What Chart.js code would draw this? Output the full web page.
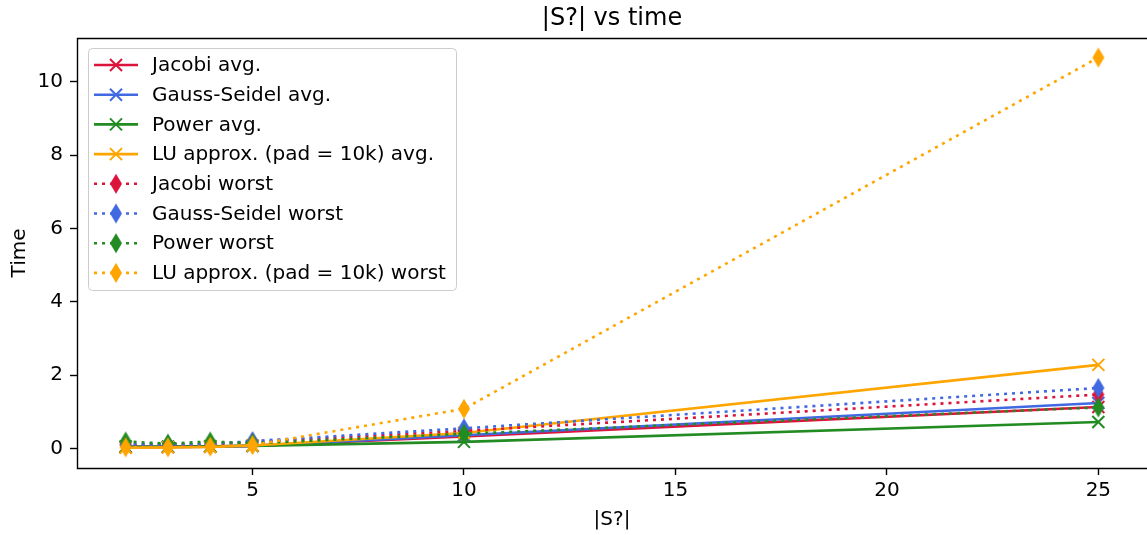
<!DOCTYPE html>
<html>
<head>
<meta charset="utf-8">
<script src="https://cdn.jsdelivr.net/npm/chart.js@4.4.1/dist/chart.umd.min.js"></script>
<style>
  html, body { margin: 0; padding: 0; background: #fff; }
  #wrap { width: 1147px; height: 535px; }
</style>
</head>
<body>
<div id="wrap"><canvas id="timeChart" width="1147" height="535"></canvas></div>
<script>
const sizes = [2, 3, 4, 5, 10, 25];

const jacobiAvg = [0.04, 0.04, 0.05, 0.07, 0.33, 1.13];
const gaussSeidelAvg = [0.04, 0.04, 0.05, 0.07, 0.36, 1.24];
const powerAvg = [0.05, 0.05, 0.06, 0.07, 0.18, 0.72];
const luAvg = [0.02, 0.03, 0.04, 0.08, 0.42, 2.28];
const jacobiWorst = [0.10, 0.10, 0.11, 0.17, 0.48, 1.47];
const gaussSeidelWorst = [0.11, 0.11, 0.12, 0.20, 0.55, 1.65];
const powerWorst = [0.19, 0.13, 0.19, 0.14, 0.40, 1.12];
const luWorst = [0.03, 0.03, 0.05, 0.09, 1.08, 10.66];

const xTicks = [5, 10, 15, 20, 25];
const yTicks = [0, 2, 4, 6, 8, 10];

const FONT = '"DejaVu Sans", sans-serif';
const RED = '#dc143c', BLUE = '#4169e1', GREEN = '#228b22', ORANGE = '#ffa500';
const DOTS = [3, 5];

function diamond(color) {
  const c = document.createElement('canvas');
  c.width = 14; c.height = 22;
  const g = c.getContext('2d');
  g.fillStyle = color;
  g.beginPath();
  g.moveTo(7, 1); g.lineTo(13, 11); g.lineTo(7, 21); g.lineTo(1, 11);
  g.closePath();
  g.fill();
  return c;
}

function toPoints(ys) { return sizes.map((x, i) => ({ x: x, y: ys[i] })); }

const series = [
  { label: 'Jacobi avg.', data: jacobiAvg, color: RED, worst: false },
  { label: 'Gauss-Seidel avg.', data: gaussSeidelAvg, color: BLUE, worst: false },
  { label: 'Power avg.', data: powerAvg, color: GREEN, worst: false },
  { label: 'LU approx. (pad = 10k) avg.', data: luAvg, color: ORANGE, worst: false },
  { label: 'Jacobi worst', data: jacobiWorst, color: RED, worst: true },
  { label: 'Gauss-Seidel worst', data: gaussSeidelWorst, color: BLUE, worst: true },
  { label: 'Power worst', data: powerWorst, color: GREEN, worst: true },
  { label: 'LU approx. (pad = 10k) worst', data: luWorst, color: ORANGE, worst: true }
];

const datasets = series.map((s, i) => ({
  label: s.label,
  data: toPoints(s.data),
  borderColor: s.color,
  backgroundColor: s.color,
  borderWidth: 2.6,
  borderDash: s.worst ? DOTS : [],
  pointStyle: s.worst ? diamond(s.color) : 'crossRot',
  pointRadius: 8.5,
  pointBorderWidth: 2,
  pointBorderColor: s.color,
  tension: 0,
  fill: false,
  clip: false,
  order: -i
}));

// frame, title, axis labels and the in-plot legend, matplotlib style
const decor = {
  id: 'decor',
  afterDraw(chart) {
    const ctx = chart.ctx;
    const a = chart.chartArea;
    ctx.save();
    // right spine falls just outside the picture, so only three sides
    ctx.strokeStyle = '#000';
    ctx.lineWidth = 1.4;
    ctx.beginPath();
    ctx.moveTo(a.right + 2, a.top + 0.5);
    ctx.lineTo(a.left + 0.5, a.top + 0.5);
    ctx.lineTo(a.left + 0.5, a.bottom + 0.5);
    ctx.lineTo(a.right + 2, a.bottom + 0.5);
    ctx.stroke();

    ctx.fillStyle = '#000';
    ctx.textAlign = 'center';
    ctx.textBaseline = 'middle';
    ctx.font = '24px ' + FONT;
    ctx.fillText('|S?| vs time', 612, 19);
    ctx.font = '20px ' + FONT;
    ctx.fillText('|S?|', 612, 520);
    ctx.save();
    ctx.translate(20, (a.top + a.bottom) / 2);
    ctx.rotate(-Math.PI / 2);
    ctx.fillText('Time', 0, 0);
    ctx.restore();

    // legend box
    const bx = 88.5, by = 48.5, bw = 368, bh = 242, r = 4;
    ctx.beginPath();
    ctx.moveTo(bx + r, by);
    ctx.arcTo(bx + bw, by, bx + bw, by + bh, r);
    ctx.arcTo(bx + bw, by + bh, bx, by + bh, r);
    ctx.arcTo(bx, by + bh, bx, by, r);
    ctx.arcTo(bx, by, bx + bw, by, r);
    ctx.closePath();
    ctx.fillStyle = 'rgba(255,255,255,0.8)';
    ctx.fill();
    ctx.strokeStyle = '#cccccc';
    ctx.lineWidth = 1;
    ctx.stroke();

    series.forEach((s, i) => {
      const y = 65 + i * 29.7;
      ctx.strokeStyle = s.color;
      ctx.lineWidth = 2.6;
      ctx.setLineDash(s.worst ? DOTS : []);
      ctx.beginPath();
      ctx.moveTo(94, y); ctx.lineTo(138, y);
      ctx.stroke();
      ctx.setLineDash([]);
      if (s.worst) {
        ctx.drawImage(diamond(s.color), 116 - 7, y - 11);
      } else {
        ctx.lineWidth = 2;
        ctx.beginPath();
        ctx.moveTo(110, y - 6); ctx.lineTo(122, y + 6);
        ctx.moveTo(110, y + 6); ctx.lineTo(122, y - 6);
        ctx.stroke();
      }
      ctx.fillStyle = '#000';
      ctx.textAlign = 'left';
      ctx.font = '20px ' + FONT;
      ctx.fillText(s.label, 152, y + 1);
    });
    ctx.restore();
  }
};

const ctx = document.getElementById('timeChart').getContext('2d');

const timeChart = new Chart(ctx, {
  type: 'line',
  data: { datasets: datasets },
  options: {
    responsive: false,
    animation: false,
    layout: { autoPadding: false, padding: { top: 38, right: 0, left: 0, bottom: 0 } },
    plugins: { legend: { display: false }, tooltip: { enabled: false }, title: { display: false } },
    scales: {
      x: {
        type: 'linear',
        min: 0.85,
        max: 26.15,
        afterBuildTicks: s => { s.ticks = xTicks.map(v => ({ value: v })); },
        afterFit: s => { s.height = 67; s.paddingLeft = 0; s.paddingRight = 0; },
        border: { display: false },
        grid: { drawOnChartArea: false, drawTicks: true, tickLength: 7, color: '#000', tickWidth: 1.4 },
        ticks: { color: '#000', font: { family: FONT, size: 20 }, padding: 4, maxRotation: 0 }
      },
      y: {
        type: 'linear',
        min: -0.533,
        max: 11.193,
        afterBuildTicks: s => { s.ticks = yTicks.map(v => ({ value: v })); },
        afterFit: s => { s.width = 77; s.paddingTop = 0; s.paddingBottom = 0; },
        border: { display: false },
        grid: { drawOnChartArea: false, drawTicks: true, tickLength: 7, color: '#000', tickWidth: 1.4 },
        ticks: { color: '#000', font: { family: FONT, size: 20 }, padding: 7 }
      }
    }
  },
  plugins: [decor]
});
</script>
</body>
</html>
